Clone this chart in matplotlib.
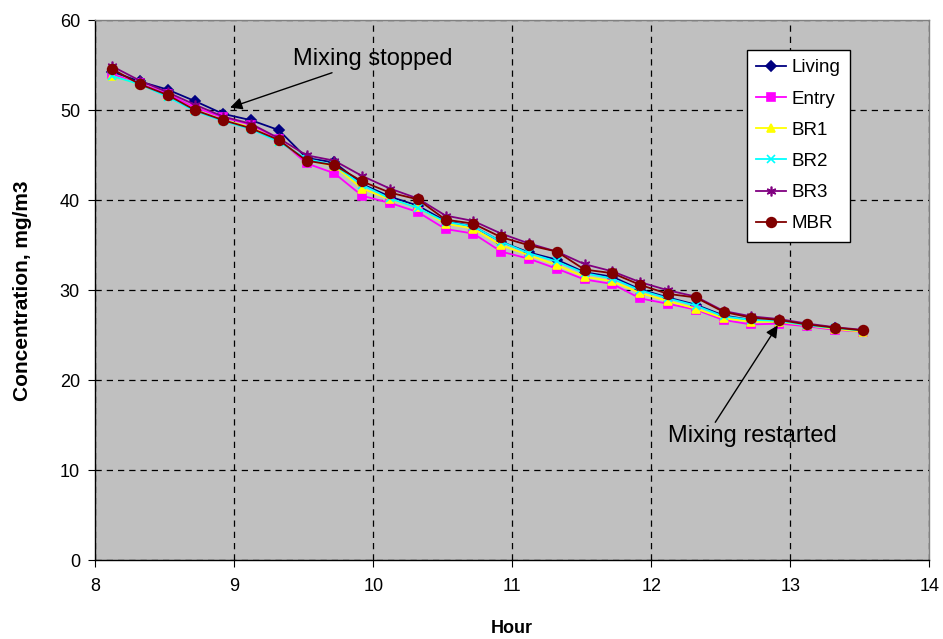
import matplotlib
matplotlib.use("Agg")
import matplotlib.pyplot as plt

plt.rcParams['font.family'] = ['Liberation Sans', 'DejaVu Sans']

# hours of each reading
hours = [8.12, 8.32, 8.52, 8.72, 8.92, 9.12, 9.32, 9.52, 9.72, 9.92,
         10.12, 10.32, 10.52, 10.72, 10.92, 11.12, 11.32, 11.52, 11.72, 11.92,
         12.12, 12.32, 12.52, 12.72, 12.92, 13.12, 13.32, 13.52]

living = [54.3, 53.2, 52.3, 51.0, 49.6, 48.9, 47.8, 44.7, 44.2, 41.8,
          40.4, 39.4, 37.7, 37.1, 35.4, 34.2, 33.4, 32.0, 31.5, 30.1,
          29.2, 28.4, 27.2, 26.7, 26.5, 26.1, 25.8, 25.5]
entry = [54.0, 53.0, 51.8, 50.3, 49.2, 48.4, 46.8, 44.1, 43.0, 40.5,
         39.7, 38.7, 36.8, 36.3, 34.3, 33.5, 32.4, 31.2, 30.7, 29.1,
         28.5, 27.85, 26.7, 26.2, 26.3, 26.0, 25.6, 25.4]
br1 = [53.8, 52.9, 51.6, 50.0, 48.9, 48.1, 46.6, 44.5, 43.8, 41.3,
       40.1, 39.2, 37.4, 36.85, 35.0, 33.9, 32.8, 31.5, 31.0, 29.7,
       28.8, 27.96, 26.9, 26.5, 26.5, 26.1, 25.7, 25.4]
br2 = [53.8, 52.9, 51.5, 49.9, 48.8, 47.9, 46.5, 44.6, 43.9, 41.7,
       40.2, 39.15, 37.6, 37.1, 35.4, 34.1, 33.2, 31.9, 31.3, 30.0,
       29.1, 28.3, 27.1, 26.7, 26.6, 26.1, 25.8, 25.5]
br3 = [54.9, 53.3, 52.0, 50.6, 49.3, 48.5, 46.9, 45.0, 44.4, 42.7,
       41.3, 40.2, 38.3, 37.7, 36.3, 35.2, 34.3, 32.9, 32.1, 30.9,
       30.0, 29.3, 27.7, 27.1, 26.8, 26.3, 25.9, 25.6]
mbr = [54.6, 52.9, 51.7, 50.0, 48.9, 48.0, 46.7, 44.4, 43.9, 42.1,
       40.85, 40.1, 37.85, 37.4, 35.9, 35.0, 34.3, 32.3, 31.9, 30.6,
       29.6, 29.2, 27.6, 26.96, 26.7, 26.2, 25.85, 25.55]

labels = ['Living', 'Entry', 'BR1', 'BR2', 'BR3', 'MBR']
colors = ['#000080', '#FF00FF', '#FFFF00', '#00FFFF', '#800080', '#800000']
markers = ['D', 's', '^', 'x', (6, 2, 0), 'o']
msizes = [5, 6, 6, 6, 7, 7]

fig = plt.figure(figsize=(9.43, 6.39), dpi=100)
ax = fig.add_axes([0.101, 0.1232, 0.8844, 0.8451])
ax.set_facecolor('#C0C0C0')

series = [living, entry, br1, br2, br3, mbr]
for vals, lab, c, m, ms in zip(series, labels, colors, markers, msizes):
    ax.plot(hours, vals, color=c, marker=m, markersize=ms, lw=1.3,
            markeredgecolor=c, markeredgewidth=1.2, label=lab)

ax.set_xlim(8, 14)
ax.set_ylim(0, 60)
ax.set_xticks(range(8, 15))
ax.set_yticks(range(0, 61, 10))
ax.grid(True, color='black', linestyle=(0, (5, 4)), lw=0.9)
ax.set_axisbelow(True)
ax.tick_params(direction='out', length=5, labelsize=13, colors='black')
ax.tick_params(axis='x', pad=8)
ax.tick_params(axis='y', pad=6)

for s in ['left', 'bottom']:
    ax.spines[s].set_color('black')
    ax.spines[s].set_linewidth(1.0)
for s in ['top', 'right']:
    ax.spines[s].set_color('#808080')
    ax.spines[s].set_linewidth(1.0)

ax.set_xlabel('Hour', fontsize=13, fontweight='bold', labelpad=18)
ax.set_ylabel('Concentration, mg/m3', fontsize=15, fontweight='bold', labelpad=20)

leg = ax.legend(loc='upper left', bbox_to_anchor=(0.781, 0.945), borderaxespad=0,
                fontsize=13.5, frameon=True, fancybox=False, framealpha=1,
                edgecolor='black', labelspacing=0.75, handlelength=1.6,
                handletextpad=0.3, borderpad=0.5)
leg.get_frame().set_linewidth(1.0)

ax.annotate('Mixing stopped', xy=(8.97, 50.3), xytext=(9.42, 55.7),
            fontsize=17, va='center', ha='left',
            arrowprops=dict(arrowstyle='-|>', color='black', lw=1,
                            mutation_scale=18, shrinkA=0, shrinkB=0))
ax.annotate('Mixing restarted', xy=(12.91, 26.1), xytext=(12.12, 13.8),
            fontsize=17, va='center', ha='left',
            arrowprops=dict(arrowstyle='-|>', color='black', lw=1,
                            mutation_scale=18, shrinkA=0, shrinkB=0,
                            relpos=(0.27, 1.0)))

fig.savefig('out.png', dpi=100)
